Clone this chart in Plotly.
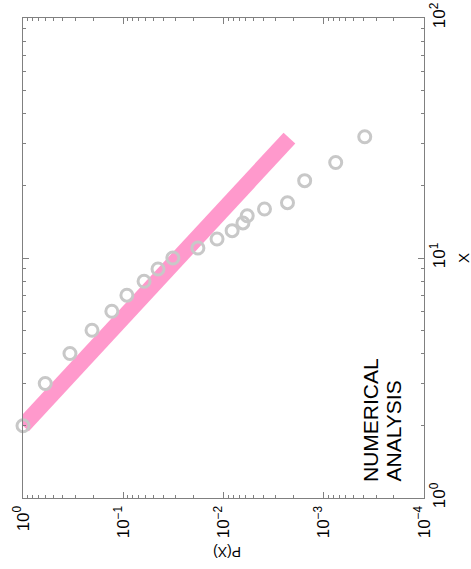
import plotly.graph_objects as go

# Data read from the (rotated) reference chart
x_vals = [2, 3, 4, 5, 6, 7, 8, 9, 10, 11, 12, 13, 14, 15, 16, 17, 21, 25, 32]
p_vals = [1.0, 0.60, 0.34, 0.205, 0.13, 0.092, 0.062, 0.045, 0.032, 0.018,
          0.0116, 0.0082, 0.0064, 0.0058, 0.0039, 0.0023, 0.00155, 0.00076, 0.00039]

fit_x = [2.0, 31.6]
fit_p = [1.0, 0.0022]

p_tickvals = [1, 0.1, 0.01, 0.001, 0.0001]
p_ticktext = ["10<sup>0</sup>", "10<sup>−1</sup>", "10<sup>−2</sup>",
              "10<sup>−3</sup>", "10<sup>−4</sup>"]
x_tickvals = [1, 10, 100]
x_ticktext = ["10<sup>0</sup>", "10<sup>1</sup>", "10<sup>2</sup>"]

W, H = 471, 569
L, R, T, B = 23, 47, 18, 71
pw, ph = W - L - R, H - T - B

def px(xp):
    return (xp - L) / pw

def py(yp):
    return (H - B - yp) / ph

def minor_vals(lo_exp, hi_exp):
    out = []
    for e in range(lo_exp, hi_exp):
        for m in range(2, 10):
            out.append(m * 10 ** e)
    return out

fig = go.Figure()
fig.add_trace(go.Scatter(
    x=fit_p, y=fit_x, mode="lines",
    line=dict(color="#FF99CC", width=16),
    hoverinfo="skip", cliponaxis=False,
))
fig.add_trace(go.Scatter(
    x=p_vals, y=x_vals, mode="markers",
    marker=dict(symbol="circle-open", size=12, color="#C8C8C8",
                line=dict(width=3, color="#C8C8C8")),
    cliponaxis=False,
))

axis_common = dict(
    type="log", showgrid=False, zeroline=False, automargin=False,
    showline=True, linecolor="#808080", linewidth=1, mirror="allticks",
    ticks="inside", ticklen=6, tickcolor="#808080", tickwidth=1,
    tickmode="array", tickangle=-90,
    tickfont=dict(size=17, color="black", family="Liberation Sans, Arial"),
)

fig.update_layout(
    width=W, height=H,
    margin=dict(l=L, r=R, t=T, b=B),
    paper_bgcolor="white", plot_bgcolor="white",
    showlegend=False,
    font=dict(family="Liberation Sans, Arial", color="black"),
    xaxis=dict(range=[0, -4], tickvals=p_tickvals, ticktext=p_ticktext,
               minor=dict(ticks="inside", ticklen=3, tickcolor="#808080",
                          showgrid=False, tickvals=minor_vals(-4, 0)),
               **axis_common),
    yaxis=dict(range=[0, 2], side="right", tickvals=x_tickvals, ticktext=x_ticktext,
               minor=dict(ticks="inside", ticklen=3, tickcolor="#808080",
                          showgrid=False, tickvals=minor_vals(0, 2)),
               **axis_common),
    annotations=[
        dict(text="NUMERICAL", xref="paper", yref="paper",
             x=px(370), y=py(484), xanchor="center", yanchor="bottom",
             textangle=-90, showarrow=False,
             font=dict(size=21, color="black")),
        dict(text="ANALYSIS", xref="paper", yref="paper",
             x=px(393), y=py(484), xanchor="center", yanchor="bottom",
             textangle=-90, showarrow=False,
             font=dict(size=21, color="black")),
        dict(text="P(X)", xref="paper", yref="paper",
             x=px(227), y=py(552), xanchor="center", yanchor="middle",
             textangle=180, showarrow=False,
             font=dict(size=14, color="black")),
        dict(text="X", xref="paper", yref="paper",
             x=px(463), y=py(258), xanchor="center", yanchor="middle",
             textangle=-90, showarrow=False,
             font=dict(size=15, color="black")),
    ],
)

fig.write_html("out.html", config={"displayModeBar": False},
               post_script="document.body.style.margin='0px';document.body.style.overflow='hidden';")
